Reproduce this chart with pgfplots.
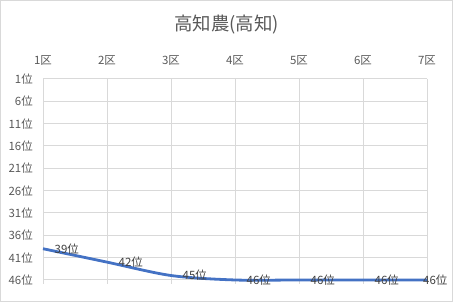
\documentclass[border=0pt]{standalone}
\usepackage{pgfplots}
\pgfplotsset{compat=1.18}
\usepackage{fontspec}
\setmainfont{Noto Sans CJK JP}
\definecolor{gridc}{HTML}{D9D9D9}
\definecolor{tickc}{HTML}{595959}
\definecolor{labc}{HTML}{404040}
\definecolor{linec}{HTML}{4472C4}
\begin{document}
\begin{tikzpicture}
\path[use as bounding box] (0bp,0bp) rectangle (453bp,302bp);
\draw[gridc, line width=1bp] (0.5bp,0.5bp) rectangle (452.5bp,301.5bp);
\node[text=tickc, font=\fontsize{18.5}{20}\selectfont, inner sep=0pt] at (226.5bp,277bp) {高知農(高知)};
\begin{axis}[
  at={(43bp,18bp)}, anchor=south west, scale only axis,
  width=384bp, height=205bp,
  xmin=1, xmax=7, ymin=1, ymax=46.9, y dir=reverse,
  /pgf/number format/assume math mode=true,
  axis line style={draw=none}, major tick length=0pt,
  xtick={1,2,3,4,5,6,7},
  xticklabels={1区,2区,3区,4区,5区,6区,7区},
  xticklabel pos=top,
  ytick={1,6,11,16,21,26,31,36,41,46},
  yticklabels={1位,6位,11位,16位,21位,26位,31位,36位,41位,46位},
  grid=major, grid style={gridc, line width=1bp},
  xticklabel style={anchor=base, inner sep=0pt, yshift=14bp, text=tickc, font=\fontsize{11.5}{13}\selectfont},
  yticklabel style={anchor=east, inner sep=0pt, xshift=-10bp, text=tickc, font=\fontsize{11.5}{13}\selectfont},
  clip=false,
]
\addplot[color=linec, line width=2.8bp, smooth] coordinates {(1,39)(2,42)(3,45)(4,46)(5,46)(6,46)(7,46)};
\addplot[draw=none, nodes near coords={\pgfmathprintnumber[assume math mode=true]{\pgfplotspointmeta}位},
  nodes near coords style={anchor=west, inner sep=0pt, xshift=11.5bp, yshift=0bp, text=labc, font=\fontsize{11.5}{13}\selectfont}]
  coordinates {(1,39)(2,42)(3,45)(4,46)(5,46)(6,46)};
\addplot[draw=none, nodes near coords={\pgfmathprintnumber[assume math mode=true]{\pgfplotspointmeta}位},
  nodes near coords style={anchor=west, inner sep=0pt, xshift=-4bp, text=labc, font=\fontsize{11.5}{13}\selectfont}]
  coordinates {(7,46)};
\end{axis}
\end{tikzpicture}
\end{document}
